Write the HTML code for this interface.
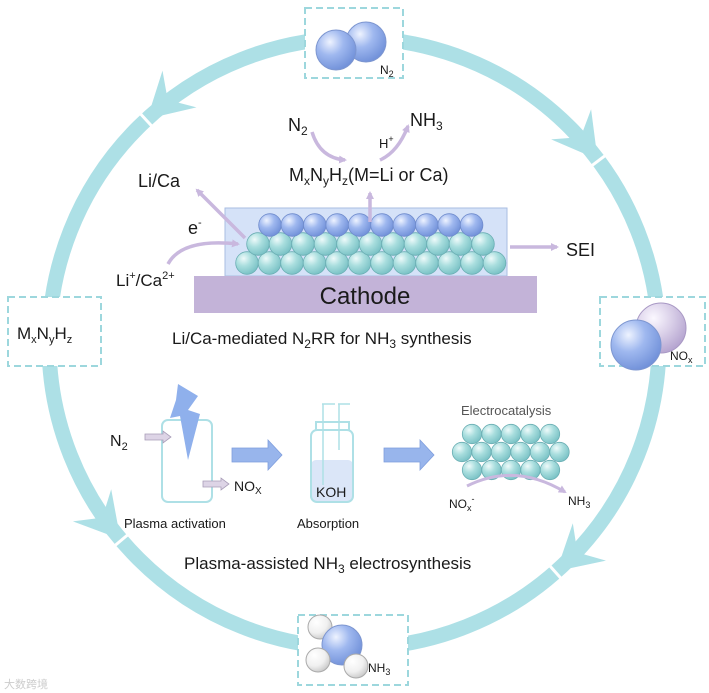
<!DOCTYPE html>
<html><head><meta charset="utf-8"><style>
html,body{margin:0;padding:0;background:#fff}
svg{display:block}
text{font-family:"Liberation Sans","Noto Sans CJK SC",sans-serif;fill:#1a1a1a}
</style></head><body>
<svg id="s" width="709" height="693" viewBox="0 0 709 693" xmlns="http://www.w3.org/2000/svg">
<defs>
<radialGradient id="gb" cx="0.35" cy="0.3" r="0.75"><stop offset="0" stop-color="#eef3ff"/><stop offset="0.45" stop-color="#9fb8ef"/><stop offset="1" stop-color="#6f8fd8"/></radialGradient>
<radialGradient id="gt" cx="0.35" cy="0.3" r="0.75"><stop offset="0" stop-color="#eefafa"/><stop offset="0.45" stop-color="#a9dede"/><stop offset="1" stop-color="#77c0c4"/></radialGradient>
<radialGradient id="gp" cx="0.35" cy="0.3" r="0.75"><stop offset="0" stop-color="#fbf8ff"/><stop offset="0.5" stop-color="#d9cfe8"/><stop offset="1" stop-color="#b4a3cf"/></radialGradient>
<radialGradient id="gw" cx="0.35" cy="0.3" r="0.75"><stop offset="0" stop-color="#ffffff"/><stop offset="0.6" stop-color="#f0f0f0"/><stop offset="1" stop-color="#c8c8c8"/></radialGradient>
<marker id="pa" markerWidth="8" markerHeight="8" refX="6" refY="4" orient="auto" markerUnits="userSpaceOnUse"><path d="M0,0 L8,4 L0,8 z" fill="#c9b8de"/></marker>
</defs>
<circle cx="354" cy="343" r="305" fill="none" stroke="#ade0e6" stroke-width="15"/>
<g id="heads" fill="#ade0e6"></g>

<!-- boxes -->
<g fill="#fff" stroke="#9dd7dd" stroke-width="2" stroke-dasharray="7,4">
<rect x="305" y="8" width="98" height="70"/>
<rect x="8" y="297" width="93" height="69"/>
<rect x="600" y="297" width="105" height="69"/>
<rect x="298" y="615" width="110" height="70"/>
</g>
<!-- top N2 -->
<circle cx="366" cy="42" r="20" fill="url(#gb)" stroke="#7d96d0"/>
<circle cx="336" cy="50" r="20" fill="url(#gb)" stroke="#7d96d0"/>
<text x="380" y="74" font-size="12">N<tspan font-size="9" dy="3">2</tspan></text>
<!-- left -->
<text x="17" y="339" font-size="17">M<tspan font-size="11" dy="4">x</tspan><tspan dy="-4">N</tspan><tspan font-size="11" dy="4">y</tspan><tspan dy="-4">H</tspan><tspan font-size="11" dy="4">z</tspan></text>
<!-- right NOx -->
<circle cx="661" cy="328" r="25" fill="url(#gp)" stroke="#a898c4"/>
<circle cx="636" cy="345" r="25" fill="url(#gb)" stroke="#7d96d0"/>
<text x="670" y="360" font-size="12">NO<tspan font-size="9" dy="3">x</tspan></text>
<!-- bottom NH3 -->
<circle cx="320" cy="627" r="12" fill="url(#gw)" stroke="#aaa"/>
<circle cx="342" cy="645" r="20" fill="url(#gb)" stroke="#7d96d0"/>
<circle cx="318" cy="660" r="12" fill="url(#gw)" stroke="#aaa"/>
<circle cx="356" cy="666" r="12" fill="url(#gw)" stroke="#aaa"/>
<text x="368" y="672" font-size="12">NH<tspan font-size="9" dy="3">3</tspan></text>

<!-- cathode -->
<rect x="225" y="208" width="282" height="68" fill="#d5e2f8" stroke="#a9bee2"/>
<g id="sph"></g>
<rect x="194" y="276" width="343" height="37" fill="#c3b3d8"/>
<text x="365" y="304" font-size="24" text-anchor="middle">Cathode</text>

<g fill="none" stroke="#c9b8de" stroke-width="3.5" marker-end="url(#pa)">
<path d="M312,132 Q320,158 345,160"/>
<path d="M380,160 Q398,152 408,126"/>
<path d="M370,222 L370,193"/>
<path d="M245,238 L197,190"/>
<path d="M168,264 Q182,238 238,244"/>
<path d="M510,247 L557,247"/>
</g>
<text x="288" y="131" font-size="18">N<tspan font-size="12" dy="4">2</tspan></text>
<text x="410" y="126" font-size="18">NH<tspan font-size="12" dy="4">3</tspan></text>
<text x="379" y="148" font-size="13">H<tspan font-size="9" dy="-6">+</tspan></text>
<text x="289" y="181" font-size="18">M<tspan font-size="12" dy="4">x</tspan><tspan dy="-4">N</tspan><tspan font-size="12" dy="4">y</tspan><tspan dy="-4">H</tspan><tspan font-size="12" dy="4">z</tspan><tspan dy="-4">(M=Li or Ca)</tspan></text>
<text x="138" y="187" font-size="18">Li/Ca</text>
<text x="188" y="234" font-size="18">e<tspan font-size="11" dy="-8">-</tspan></text>
<text x="116" y="286" font-size="17">Li<tspan font-size="11" dy="-7">+</tspan><tspan dy="7">/Ca</tspan><tspan font-size="11" dy="-7">2+</tspan></text>
<text x="566" y="256" font-size="18">SEI</text>
<text x="172" y="344" font-size="17">Li/Ca-mediated N<tspan font-size="12" dy="4">2</tspan><tspan dy="-4">RR for NH</tspan><tspan font-size="12" dy="4">3</tspan><tspan dy="-4"> synthesis</tspan></text>

<!-- plasma -->
<rect x="162" y="420" width="50" height="82" rx="6" fill="none" stroke="#aee0e6" stroke-width="2"/>
<polygon points="178,384 198,396 188,410 200,414 188,460 180,416 170,418 176,400" fill="#8fb0ec"/>
<g fill="#ddd4e6" stroke="#a89cb8" stroke-width="0.8">
<polygon points="145,434 163,434 163,431 171,437 163,443 163,440 145,440"/>
<polygon points="203,481 221,481 221,478 229,484 221,490 221,487 203,487"/>
</g>
<text x="110" y="446" font-size="16">N<tspan font-size="11" dy="4">2</tspan></text>
<text x="234" y="491" font-size="14">NO<tspan font-size="10" dy="3">X</tspan></text>
<text x="124" y="528" font-size="13">Plasma activation</text>
<polygon points="232,448 268,448 268,440 282,455 268,470 268,462 232,462" fill="#98b5ec" stroke="#7f9edd" stroke-width="0.8"/>
<polygon points="384,448 420,448 420,440 434,455 420,470 420,462 384,462" fill="#98b5ec" stroke="#7f9edd" stroke-width="0.8"/>
<!-- absorption bottle -->
<rect x="311" y="460" width="42" height="42" rx="5" fill="#dbe6f8"/>
<path d="M316,430 L316,422 L349,422 L349,430" fill="none" stroke="#aee0e6" stroke-width="2"/>
<rect x="311" y="430" width="42" height="72" rx="6" fill="none" stroke="#aee0e6" stroke-width="2"/>
<path d="M323,404 L323,485 M322,404 L335,404 M338,404 L350,404 M339,404 L339,450" fill="none" stroke="#aee0e6" stroke-width="1.5"/>
<text x="316" y="497" font-size="14">KOH</text>
<text x="297" y="528" font-size="13">Absorption</text>
<!-- electrocatalysis -->
<text x="461" y="415" font-size="13" style="fill:#555">Electrocatalysis</text>
<g id="sph2"></g>
<path d="M467,486 Q515,462 565,492" fill="none" stroke="#c9b8de" stroke-width="3" marker-end="url(#pa)"/>
<text x="449" y="508" font-size="12">NO<tspan font-size="9" dy="3">x</tspan><tspan font-size="9" dy="-9">-</tspan></text>
<text x="568" y="505" font-size="12">NH<tspan font-size="9" dy="3">3</tspan></text>
<text x="184" y="569" font-size="17">Plasma-assisted NH<tspan font-size="12" dy="4">3</tspan><tspan dy="-4"> electrosynthesis</tspan></text>
<text x="4" y="688" font-size="11" style="fill:#ccc">大数跨境</text>
</svg>
<script>
var NS="http://www.w3.org/2000/svg";
function c(g,x,y,r,f,s){var e=document.createElementNS(NS,"circle");e.setAttribute("cx",x);e.setAttribute("cy",y);e.setAttribute("r",r);e.setAttribute("fill",f);e.setAttribute("stroke",s);e.setAttribute("stroke-width","0.8");g.appendChild(e);}
var g=document.getElementById("sph");
for(var i=0;i<12;i++)c(g,247+i*22.5,263,11.3,"url(#gt)","#6aaeb3");
for(var i=0;i<11;i++)c(g,258+i*22.5,244,11.3,"url(#gt)","#6aaeb3");
for(var i=0;i<10;i++)c(g,270+i*22.4,225,11.3,"url(#gb)","#6f8bcc");
var g2=document.getElementById("sph2");
for(var i=0;i<5;i++)c(g2,472+i*19.5,470,9.7,"url(#gt)","#6aaeb3");
for(var i=0;i<6;i++)c(g2,462+i*19.5,452,9.7,"url(#gt)","#6aaeb3");
for(var i=0;i<5;i++)c(g2,472+i*19.5,434,9.7,"url(#gt)","#6aaeb3");
var h=document.getElementById("heads"),cx=354,cy=343,R=305;
function P(p){return p[0].toFixed(1)+","+p[1].toFixed(1);}
[[-132.7,-1],[-37,1],[48.4,1],[140,-1]].forEach(function(a){
 var t=a[0]*Math.PI/180,d=a[1];
 var tip=[cx+R*Math.cos(t),cy+R*Math.sin(t)];
 var tx=-Math.sin(t)*d,ty=Math.cos(t)*d;
 var nx=Math.cos(t),ny=Math.sin(t);
 var gp=document.createElementNS(NS,"line");
 var gx=tip[0]+tx*1.5,gy=tip[1]+ty*1.5;
 gp.setAttribute("x1",gx+nx*9);gp.setAttribute("y1",gy+ny*9);gp.setAttribute("x2",gx-nx*9);gp.setAttribute("y2",gy-ny*9);
 gp.setAttribute("stroke","#fff");gp.setAttribute("stroke-width","3");h.appendChild(gp);
 var L=44,W=25,N=28;
 var b1=[tip[0]-tx*L+nx*W,tip[1]-ty*L+ny*W],b2=[tip[0]-tx*L-nx*W,tip[1]-ty*L-ny*W],nt=[tip[0]-tx*N,tip[1]-ty*N];
 var p=document.createElementNS(NS,"polygon");
 p.setAttribute("points",P(tip)+" "+P(b1)+" "+P(nt)+" "+P(b2));
 h.appendChild(p);
});
</script>
</body></html>
